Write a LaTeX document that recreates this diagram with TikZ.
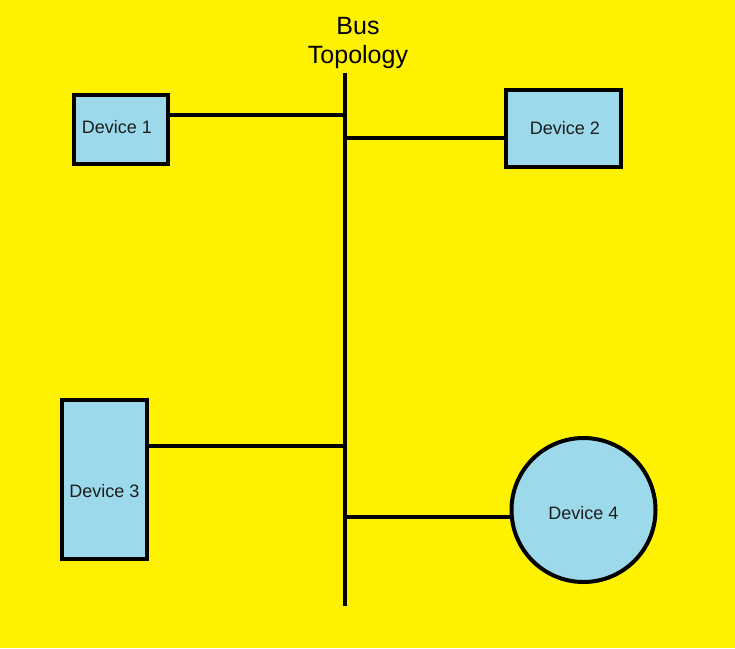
\documentclass[tikz,border=0pt]{standalone}
\usepackage{fontspec}
\setmainfont{Liberation Sans}
\definecolor{bgyellow}{RGB}{255,242,0}
\definecolor{devblue}{RGB}{156,217,234}
\definecolor{txtgray}{RGB}{30,30,30}
\begin{document}
\begin{tikzpicture}[x=1pt,y=-1pt,
  device/.style={draw=black,line width=4pt,fill=devblue,inner sep=0pt},
  devlabel/.style={text=txtgray,font=\fontsize{18}{20}\selectfont,inner sep=0pt},
  wire/.style={draw=black,line width=4pt}]
\fill[bgyellow] (0,0) rectangle (735,648);
\useasboundingbox (0,0) rectangle (735,648);
\node[align=center,font=\fontsize{25}{29}\selectfont,inner sep=0pt] (title) at (358,43) {Bus\\Topology};
\coordinate (bustop) at (345,73);
\coordinate (busbot) at (345,606);
\draw[wire] (bustop) -- (busbot);
\node[device,minimum width=94pt,minimum height=69pt,
  label={[devlabel,xshift=-4pt,yshift=2pt]center:Device 1}] (d1) at (121,129.5) {};
\node[device,minimum width=115pt,minimum height=77pt,
  label={[devlabel,xshift=1.5pt]center:Device 2}] (d2) at (563.5,128.5) {};
\node[device,minimum width=85pt,minimum height=159pt,
  label={[devlabel,yshift=-11.5pt]center:Device 3}] (d3) at (104.5,479.5) {};
\node[device,circle,minimum size=144pt,
  label={[devlabel,yshift=-3pt]center:Device 4}] (d4) at (583.5,510) {};
\coordinate (j1) at (345,115);
\coordinate (j2) at (345,138);
\coordinate (j3) at (345,446);
\coordinate (j4) at (345,517);
\draw[wire] (d1.east |- j1) -- (j1);
\draw[wire] (j2) -- (d2.west |- j2);
\draw[wire] (d3.east |- j3) -- (j3);
\draw[wire] (j4) -- (d4.west |- j4);
\end{tikzpicture}
\end{document}
